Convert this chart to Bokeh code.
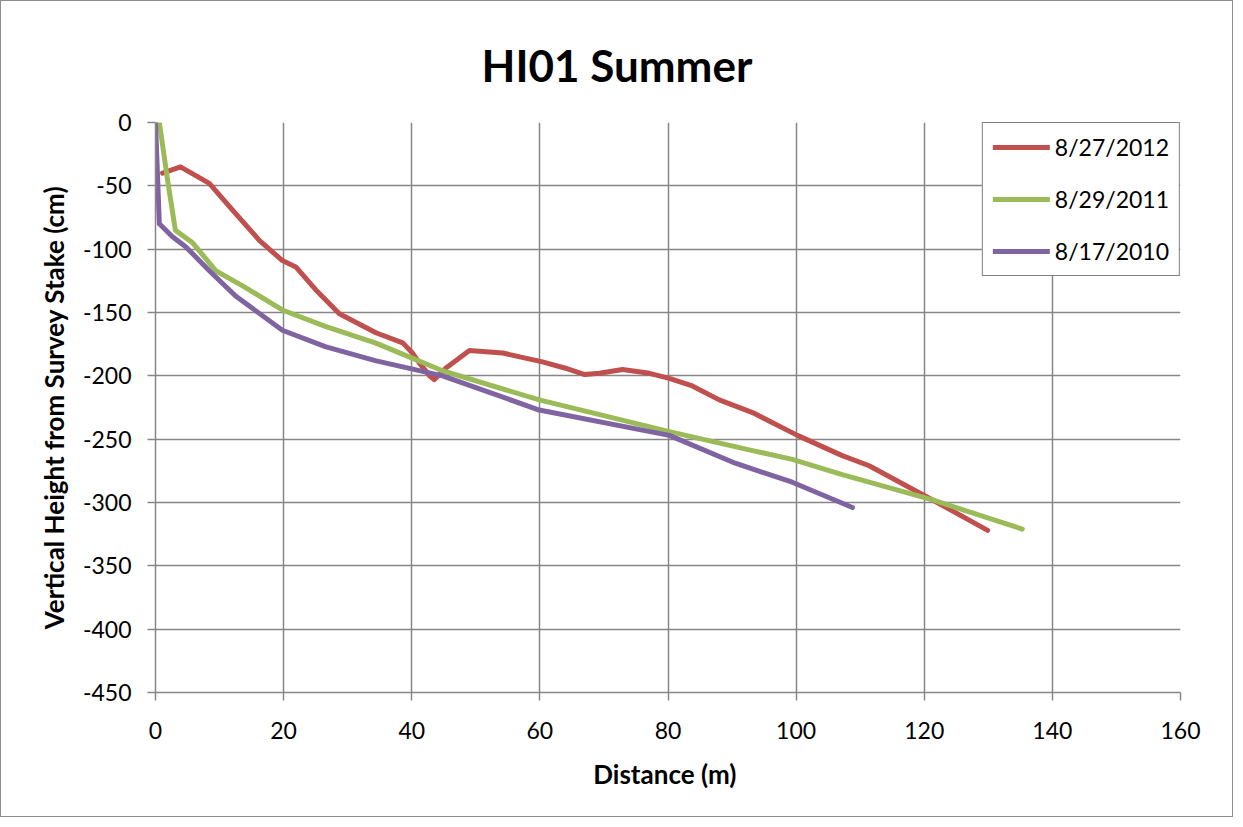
from bokeh.plotting import figure
from bokeh.models import Range1d, FixedTicker, Legend, LegendItem, CustomJSTickFormatter
from bokeh.embed import file_html
from bokeh.resources import INLINE

# ---- data ----
title_text = "HI01 Summer"
x_label = "Distance  (m)"
y_label = "Vertical Height from Survey Stake (cm)"
x_ticks = [0, 20, 40, 60, 80, 100, 120, 140, 160]
y_ticks = [0, -50, -100, -150, -200, -250, -300, -350, -400, -450]

series_names = ["8/27/2012", "8/29/2011", "8/17/2010"]

red_x = [1.1, 3.9, 8.4, 12.0, 16.2, 19.8, 21.9, 25.0, 28.7, 34.4, 38.6, 40.1,
         41.2, 42.8, 43.5, 45.3, 49.0, 54.2, 60.4, 64.0, 67.0, 69.3, 72.9,
         77.1, 80.2, 83.8, 88.0, 93.2, 100.2, 107.2, 111.4, 121.3, 129.9]
red_y = [-40, -35, -48, -69, -93, -109, -114, -132, -151, -166, -174, -182,
         -190, -200, -203, -194, -180, -182, -189, -194, -199, -198, -195,
         -198, -202, -208, -219, -229, -247, -263, -271, -298, -322]

green_x = [0.6, 1.9, 3.1, 5.8, 9.4, 13.6, 19.8, 26.5, 34.3, 39.6, 44.8,
           59.9, 80.2, 93.2, 99.4, 107.2, 121.3, 135.3]
green_y = [0, -46, -85, -95, -117, -129, -148, -161, -174, -185, -196,
           -219, -244, -259, -266, -278, -298, -321]

purple_x = [0.0, 0.6, 2.6, 4.7, 8.4, 12.5, 19.8, 26.5, 34.3, 44.8, 59.9,
            80.2, 90.5, 99.4, 108.8]
purple_y = [0, -80, -90, -98, -117, -137, -164, -177, -188, -200, -227,
            -247, -269, -284, -304]

colors = ["#C0504D", "#9BBB59", "#8064A2"]
FONT = "Lato"
GRID = "#868686"

p = figure(width=1233, height=817, output_backend="svg", toolbar_location=None,
           x_range=Range1d(0, 160), y_range=Range1d(-450, 0),
           min_border_left=154, min_border_right=54, min_border_top=121,
           min_border_bottom=126)
p.styles = {"border": "1px solid #8c8c8c"}

p.title.text = title_text
p.title.align = "left"
p.title.offset = 326
p.title.text_font = FONT
p.title.text_font_size = "44px"
p.title.text_font_style = "bold"
p.title.text_color = "#000000"
p.title.standoff = 64

p.outline_line_color = None
p.background_fill_color = "white"
p.border_fill_color = "white"

fmt = CustomJSTickFormatter(code="return String(Math.round(tick));")
for ax in (p.xaxis[0], p.yaxis[0]):
    ax.axis_line_color = GRID
    ax.axis_line_width = 1.5
    ax.major_tick_line_color = GRID
    ax.major_tick_line_width = 1.5
    ax.major_tick_out = 8
    ax.major_tick_in = 0
    ax.minor_tick_line_color = None
    ax.formatter = fmt
    ax.major_label_text_font = FONT
    ax.major_label_text_font_size = "23px"
    ax.major_label_text_color = "#000000"
    ax.axis_label_text_font = FONT
    ax.axis_label_text_font_size = "26px"
    ax.axis_label_text_font_style = "bold"
    ax.axis_label_text_color = "#000000"

p.xaxis[0].ticker = FixedTicker(ticks=x_ticks)
p.yaxis[0].ticker = FixedTicker(ticks=y_ticks)
p.xaxis[0].axis_label = x_label
p.yaxis[0].axis_label = y_label
p.xaxis[0].major_label_standoff = 21
p.yaxis[0].major_label_standoff = 16
p.xaxis[0].axis_label_standoff = 16
p.yaxis[0].axis_label_standoff = 10

for g in (p.xgrid[0], p.ygrid[0]):
    g.grid_line_color = GRID
    g.grid_line_width = 1.5

renderers = []
for xs, ys, c in [(red_x, red_y, colors[0]), (green_x, green_y, colors[1]),
                  (purple_x, purple_y, colors[2])]:
    r = p.line(xs, ys, line_color=c, line_width=5, line_cap="round", line_join="round")
    renderers.append(r)

legend = Legend(items=[LegendItem(label=n, renderers=[r]) for n, r in zip(series_names, renderers)],
                location="top_right", margin=0, padding=10, spacing=24,
                glyph_width=57, glyph_height=20, label_height=20, label_standoff=5,
                label_text_font=FONT, label_text_font_size="23px",
                label_text_color="#000000",
                border_line_color="#000000", border_line_width=1.5,
                background_fill_color="white", background_fill_alpha=1.0)
p.add_layout(legend)

open("out.html", "w").write(file_html(p, INLINE))
